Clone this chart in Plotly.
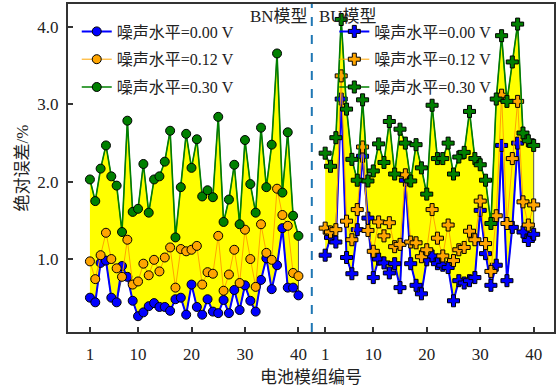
import numpy as np
import plotly.graph_objects as go

# Module index (1..40) for each model group
module_ids = list(range(1, 41))

# BN model absolute error (%) at three noise levels
bn_000 = [0.50, 0.44, 0.95, 0.98, 0.50, 0.44, 0.91, 0.77, 0.46, 0.26,
          0.31, 0.39, 0.43, 0.38, 0.38, 0.33, 0.48, 0.50, 0.28, 0.67,
          0.38, 0.28, 0.48, 0.32, 0.30, 0.47, 0.30, 0.60, 0.34, 0.66,
          0.46, 0.32, 0.73, 1.01, 0.61, 0.92, 1.40, 0.63, 0.63, 0.53]
bn_012 = [0.97, 0.74, 1.05, 1.34, 1.00, 0.88, 0.77, 1.25, 0.67, 0.71,
          0.94, 0.79, 0.99, 0.84, 1.02, 1.15, 0.63, 1.13, 1.10, 1.12,
          1.17, 0.67, 0.83, 0.81, 1.30, 0.59, 0.80, 1.12, 0.69, 1.38,
          1.00, 0.64, 1.45, 1.08, 0.99, 1.91, 1.57, 1.43, 0.82, 0.78]
bn_030 = [2.03, 1.75, 2.17, 2.47, 2.07, 1.95, 1.35, 2.79, 1.61, 1.65,
          2.23, 1.60, 2.03, 2.07, 2.26, 2.66, 1.28, 1.93, 2.62, 2.18,
          2.55, 1.81, 1.89, 1.80, 2.84, 1.48, 1.77, 2.22, 1.45, 2.54,
          1.97, 1.60, 2.70, 1.93, 2.48, 3.66, 1.86, 2.64, 1.56, 1.30]

# BU model absolute error (%) at three noise levels
bu_000 = [1.05, 1.28, 1.22, 3.07, 1.02, 0.81, 1.38, 2.33, 1.53, 0.76,
          1.00, 0.95, 0.82, 0.94, 0.63, 2.02, 0.94, 0.66, 0.55, 0.99,
          1.04, 0.94, 0.92, 0.89, 0.46, 0.72, 0.69, 0.72, 0.76, 1.63,
          1.07, 0.66, 0.92, 2.47, 0.72, 1.41, 2.50, 1.35, 1.24, 1.32]
bu_012 = [1.40, 1.35, 1.38, 3.37, 1.49, 1.25, 1.64, 2.45, 1.37, 1.10,
          1.48, 1.30, 1.47, 1.16, 1.19, 2.09, 1.22, 1.21, 1.03, 1.12,
          1.64, 1.27, 1.04, 1.44, 0.98, 1.12, 1.15, 1.36, 1.25, 1.75,
          1.20, 0.84, 1.56, 3.12, 1.46, 2.30, 3.04, 1.74, 1.44, 1.70]
bu_030 = [2.37, 2.20, 2.57, 4.10, 2.94, 2.29, 2.02, 3.06, 2.01, 2.14,
          2.49, 2.25, 2.78, 2.10, 2.68, 2.50, 2.01, 2.48, 2.18, 1.84,
          2.99, 2.30, 2.30, 2.50, 2.10, 2.32, 2.38, 2.91, 2.30, 2.22,
          2.02, 1.46, 3.07, 3.89, 3.04, 3.55, 4.04, 2.63, 2.53, 2.47]

noise_labels = ["噪声水平=0.00 V", "噪声水平=0.12 V", "噪声水平=0.30 V"]
tick_labels = ["1", "10", "20", "30", "40"]
group_labels = ["BN模型", "BU模型"]

# The BU group is shifted right along one shared x axis
BU_OFFSET = 44
SPLIT_X = 42.5

colors = ["#0000FF", "#FFA500", "#008000"]
line_widths = [2.0, 1.0, 1.6]

FONT = "Times New Roman, Liberation Serif, Noto Sans CJK SC, serif"

fig = go.Figure()


def add_group(x, series, symbol, msize, legend_name):
    arr = np.array(series)
    lo = arr.min(axis=0)
    hi = arr.max(axis=0)
    # yellow band spanning the three noise levels
    fig.add_trace(go.Scatter(
        x=list(x) + list(x[::-1]),
        y=list(hi) + list(lo[::-1]),
        fill="toself", fillcolor="#FFFF00",
        line=dict(color="#555555", width=1),
        mode="lines", hoverinfo="skip", showlegend=False,
    ))
    for k, ys in enumerate(series):
        fig.add_trace(go.Scatter(
            x=x, y=ys, mode="lines+markers",
            name=noise_labels[k],
            legend=legend_name,
            legendgroup=f"{legend_name}{k}",
            line=dict(color=colors[k], width=line_widths[k]),
            marker=dict(symbol=symbol, size=msize, color=colors[k],
                        line=dict(color="#000000", width=1)),
        ))


x_bn = np.array(module_ids)
x_bu = np.array(module_ids) + BU_OFFSET
add_group(x_bn, [bn_000, bn_012, bn_030], "circle", 9, "legend")
add_group(x_bu, [bu_000, bu_012, bu_030], "cross", 10, "legend2")

# dashed divider between the two model groups
fig.add_shape(type="line", xref="x", yref="paper", x0=SPLIT_X, x1=SPLIT_X,
              y0=0, y1=1, line=dict(color="#1f77b4", width=2, dash="dash"))

tick_pos = [1, 10, 20, 30, 40]
tickvals = tick_pos + [t + BU_OFFSET for t in tick_pos]
ticktext = tick_labels + tick_labels

legend_common = dict(
    bgcolor="rgba(0,0,0,0)", borderwidth=0,
    font=dict(family=FONT, size=16, color="#222222"),
    traceorder="grouped", tracegroupgap=4,
    xanchor="left", yanchor="top", itemwidth=30,
)

fig.update_layout(
    width=558, height=392,
    margin=dict(l=68, r=2, t=4, b=60),
    plot_bgcolor="white", paper_bgcolor="white",
    font=dict(family=FONT, size=17, color="#222222"),
    legend=dict(x=0.018, y=0.968, **legend_common),
    legend2=dict(x=0.548, y=0.968, **legend_common),
    annotations=[
        dict(text=group_labels[0], xref="paper", yref="paper",
             x=0.497, y=0.962, xanchor="right", yanchor="middle",
             showarrow=False, font=dict(family=FONT, size=17, color="#222222")),
        dict(text=group_labels[1], xref="paper", yref="paper",
             x=0.512, y=0.962, xanchor="left", yanchor="middle",
             showarrow=False, font=dict(family=FONT, size=17, color="#222222")),
    ],
)

fig.update_xaxes(
    range=[-3.1, 87.8], tickvals=tickvals, ticktext=ticktext,
    ticks="inside", ticklen=5, tickwidth=1.5, tickcolor="#333333",
    showline=True, linecolor="#333333", linewidth=2, mirror=True,
    showgrid=False, zeroline=False, ticklabelstandoff=6,
    title=dict(text="电池模组编号", font=dict(family=FONT, size=17), standoff=8),
)
fig.update_yaxes(
    range=[0.056, 4.30], tickvals=[1, 2, 3, 4], tickformat=".1f",
    ticks="inside", ticklen=5, tickwidth=1.5, tickcolor="#333333",
    showline=True, linecolor="#333333", linewidth=2, mirror=True,
    showgrid=False, zeroline=False, ticklabelstandoff=4,
    title=dict(text="绝对误差/%", font=dict(family=FONT, size=17), standoff=4),
)

fig.write_html("out.html")
